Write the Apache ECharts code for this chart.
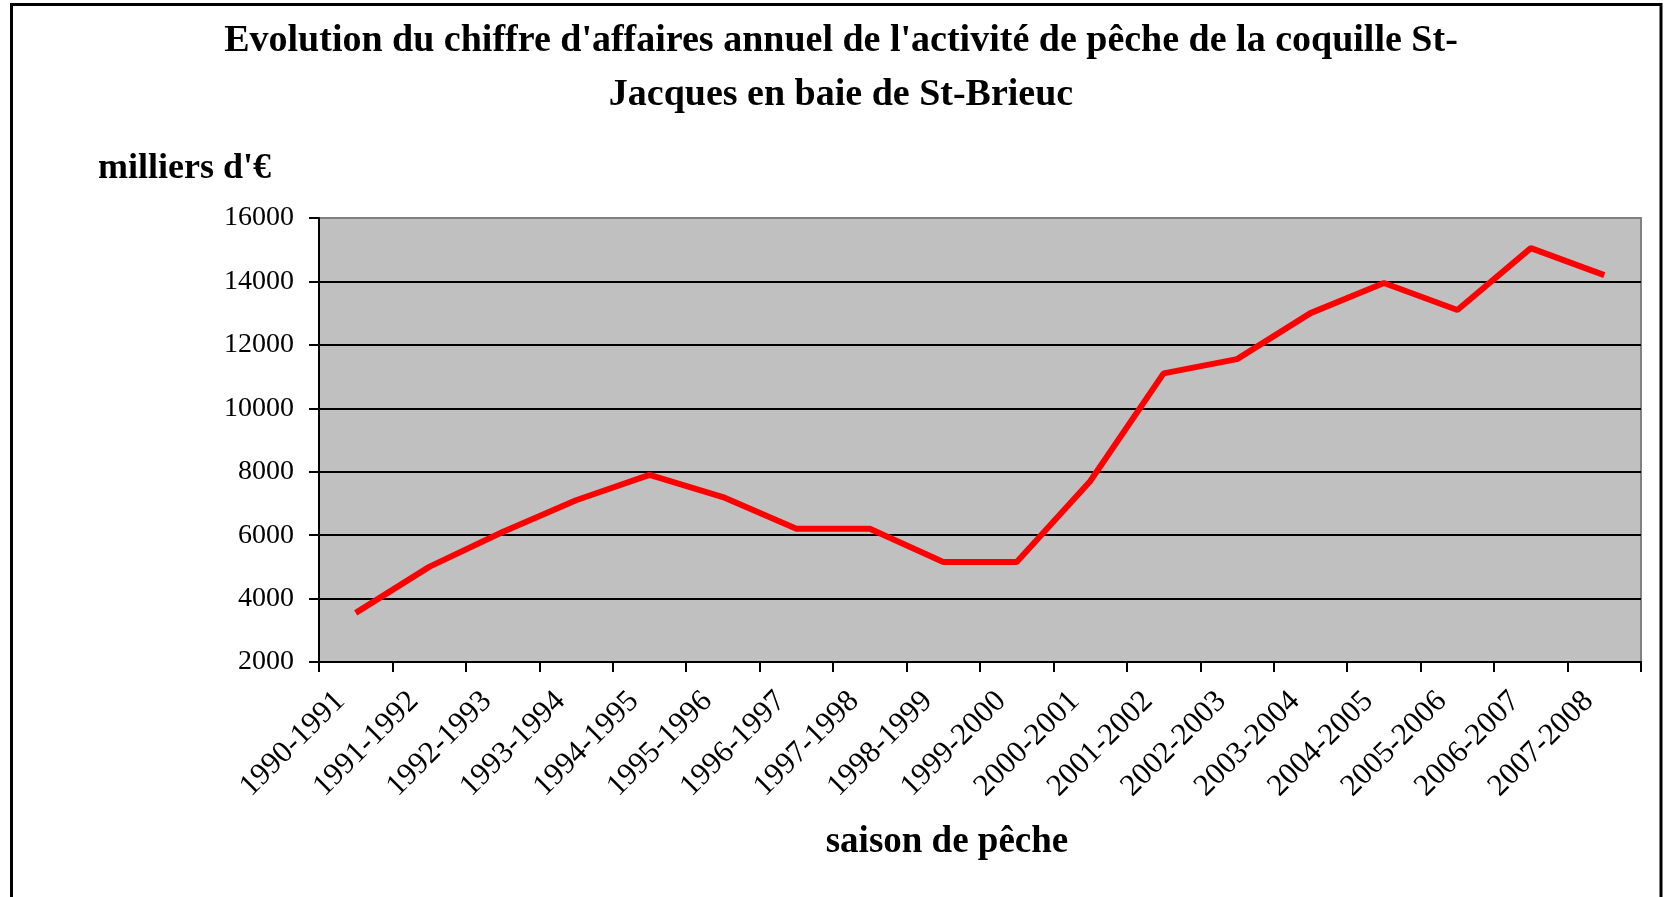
<!DOCTYPE html>
<html>
<head>
<meta charset="utf-8">
<title>Coquille St-Jacques</title>
<script src="https://cdn.jsdelivr.net/npm/echarts@6/dist/echarts.min.js"></script>
<style>
  html, body { margin: 0; padding: 0; background: #fff; }
  #chart { width: 1667px; height: 897px; }
</style>
</head>
<body>
<div id="chart"></div>
<script>
// saisons de pêche
const seasons = ['1990-1991', '1991-1992', '1992-1993', '1993-1994', '1994-1995', '1995-1996',
  '1996-1997', '1997-1998', '1998-1999', '1999-2000', '2000-2001', '2001-2002',
  '2002-2003', '2003-2004', '2004-2005', '2005-2006', '2006-2007', '2007-2008']
// chiffre d'affaires, milliers d'€
const turnover = [3550, 5000, 6100, 7100, 7900, 7200,
  6200, 6200, 5150, 5150, 7700, 11100,
  11550, 13000, 13950, 13100, 15050, 14200]
const yTicks = [2000, 4000, 6000, 8000, 10000, 12000, 14000, 16000]

const serif = '"Liberation Serif", "Times New Roman", serif'

const chart = echarts.init(document.getElementById('chart'))

chart.setOption({
  animation: false,
  backgroundColor: '#fff',
  title: [{
    text: "Evolution du chiffre d'affaires annuel de l'activité de pêche de la coquille St-\nJacques en baie de St-Brieuc",
    left: 841,
    top: 14,
    padding: 0,
    textAlign: 'center',
    textStyle: {
      fontFamily: serif,
      fontSize: 38,
      fontWeight: 'bold',
      color: '#000',
      lineHeight: 54
    }
  }, {
    text: "milliers d'€",
    left: 98,
    top: 151,
    padding: 0,
    textStyle: {
      fontFamily: serif,
      fontSize: 36,
      fontWeight: 'bold',
      color: '#000'
    }
  }],
  graphic: [{
    type: 'rect',
    shape: { x: 11.5, y: 4.5, width: 1649.5, height: 1000 },
    style: { fill: 'none', stroke: '#000', lineWidth: 3 },
    silent: true
  }],
  grid: {
    left: 319,
    right: 26,
    top: 218,
    bottom: 235,
    show: true,
    backgroundColor: '#c0c0c0',
    borderColor: '#808080',
    borderWidth: 2
  },
  xAxis: {
    type: 'category',
    data: seasons,
    boundaryGap: true,
    name: 'saison de pêche',
    nameLocation: 'middle',
    nameGap: 180,
    nameTextStyle: {
      fontFamily: serif,
      fontSize: 37,
      fontWeight: 'bold',
      color: '#000',
      verticalAlign: 'middle',
      padding: [0, 66, 0, 0]
    },
    axisLine: { lineStyle: { color: '#000', width: 2 } },
    axisTick: { show: true, length: 10, lineStyle: { color: '#000', width: 2 } },
    axisLabel: {
      rotate: 45,
      interval: 0,
      margin: 19,
      padding: [0, 22, 0, 0],
      fontFamily: serif,
      fontSize: 31,
      color: '#000'
    },
    splitLine: { show: false }
  },
  yAxis: {
    type: 'value',
    min: yTicks[0],
    max: yTicks[yTicks.length - 1],
    interval: 2000,
    axisLine: { show: true, lineStyle: { color: '#000', width: 2 } },
    axisTick: { show: true, length: 10, lineStyle: { color: '#000', width: 2 } },
    axisLabel: {
      margin: 25,
      fontFamily: serif,
      fontSize: 28,
      color: '#000',
      formatter: (v) => String(v)
    },
    splitLine: {
      show: true,
      showMaxLine: false,
      lineStyle: { color: '#000', width: 2 }
    }
  },
  series: [{
    name: "chiffre d'affaires",
    type: 'line',
    data: turnover,
    symbol: 'none',
    smooth: false,
    lineStyle: { color: '#ff0000', width: 6 },
    itemStyle: { color: '#ff0000' }
  }]
})
</script>
</body>
</html>
